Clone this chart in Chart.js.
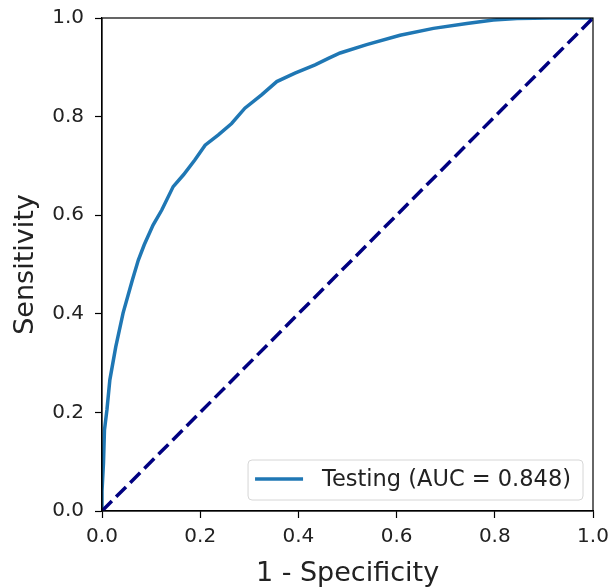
<!DOCTYPE html>
<html><head><meta charset="utf-8">
<script src="https://cdn.jsdelivr.net/npm/chart.js@4.4.0/dist/chart.umd.min.js"></script>
<style>html,body{margin:0;padding:0;background:#fff;overflow:hidden;}</style>
</head><body>
<canvas id="c" width="610" height="587"></canvas>
<script>
// False positive rate (1 - Specificity)
const fpr = [0, 0.000, 0.003, 0.005, 0.010, 0.016, 0.028, 0.043, 0.062, 0.074, 0.086, 0.104, 0.122, 0.145, 0.166, 0.189, 0.210, 0.237, 0.264, 0.291, 0.325, 0.356, 0.393, 0.434, 0.461, 0.485, 0.539, 0.607, 0.675, 0.743, 0.797, 0.845, 0.912, 1.0];
// True positive rate (Sensitivity)
const tpr = [0, 0.040, 0.097, 0.164, 0.205, 0.266, 0.333, 0.402, 0.469, 0.509, 0.540, 0.580, 0.611, 0.658, 0.682, 0.712, 0.742, 0.763, 0.786, 0.817, 0.844, 0.871, 0.888, 0.905, 0.918, 0.929, 0.946, 0.965, 0.979, 0.989, 0.996, 0.999, 1.0, 1.0];
// Chance diagonal
const chanceX = [0, 1];
const chanceY = [0, 1];
const tickValues = [0.0, 0.2, 0.4, 0.6, 0.8, 1.0];
const rocLabel = 'Testing (AUC = 0.848)';
const xTitle = '1 - Specificity';
const yTitle = 'Sensitivity';

const FONT = "'DejaVu Sans', sans-serif";
const rocPoints = fpr.map((x, i) => ({x: x, y: tpr[i]}));
const chancePoints = chanceX.map((x, i) => ({x: x, y: chanceY[i]}));

const framePlugin = {
  id: 'frame',
  afterDatasetsDraw(chart) {
    const a = chart.chartArea, ctx = chart.ctx;
    ctx.save();
    ctx.strokeStyle = '#000';
    ctx.lineWidth = 1.2;
    ctx.strokeRect(a.left, a.top, a.right - a.left, a.bottom - a.top);
    ctx.restore();
  }
};

const legendPlugin = {
  id: 'innerLegend',
  afterDraw(chart) {
    const a = chart.chartArea, ctx = chart.ctx;
    const ds = chart.data.datasets[0];
    ctx.save();
    ctx.font = "22.5px " + FONT;
    const tw = ctx.measureText(ds.label).width;
    const w = 7 + 48 + 19 + tw + 12;
    const h = 40;
    const x1 = a.right - 10, y1 = a.bottom - 11;
    const x0 = x1 - w, y0 = y1 - h;
    ctx.beginPath();
    if (ctx.roundRect) ctx.roundRect(x0, y0, w, h, 4); else ctx.rect(x0, y0, w, h);
    ctx.fillStyle = 'rgba(255,255,255,0.8)';
    ctx.fill();
    ctx.strokeStyle = '#d6d6d6';
    ctx.lineWidth = 1;
    ctx.stroke();
    const ly = y0 + h / 2 - 1;
    ctx.beginPath();
    ctx.moveTo(x0 + 7, ly);
    ctx.lineTo(x0 + 55, ly);
    ctx.strokeStyle = ds.borderColor;
    ctx.lineWidth = ds.borderWidth;
    ctx.stroke();
    ctx.fillStyle = '#222';
    ctx.textBaseline = 'middle';
    ctx.textAlign = 'left';
    ctx.fillText(ds.label, x0 + 74, ly + 1);
    ctx.restore();
  }
};

new Chart(document.getElementById('c'), {
  type: 'scatter',
  data: {
    datasets: [
      {label: rocLabel, data: rocPoints, showLine: true, borderColor: '#1f77b4', backgroundColor: '#1f77b4',
       borderWidth: 3.5, pointRadius: 0, tension: 0, fill: false, order: 2},
      {label: 'chance', data: chancePoints, showLine: true, borderColor: '#000080', backgroundColor: '#000080',
       borderWidth: 3.5, borderDash: [14, 6], pointRadius: 0, tension: 0, fill: false, order: 1}
    ]
  },
  options: {
    responsive: false,
    animation: false,
    devicePixelRatio: 1,
    layout: {padding: {left: 0, right: 17, top: 18, bottom: 0}},
    plugins: {legend: {display: false}, tooltip: {enabled: false}},
    scales: {
      x: {
        type: 'linear', min: 0, max: 1,
        afterBuildTicks(s) { s.ticks = tickValues.map(v => ({value: v})); },
        afterFit(s) { s.height = 76; s.paddingLeft = 0; s.paddingRight = 0; },
        ticks: {callback: v => v.toFixed(1), font: {family: FONT, size: 20}, color: '#222', padding: 7, maxRotation: 0, autoSkip: false},
        grid: {drawOnChartArea: false, drawTicks: true, tickLength: 7, tickWidth: 1.2, tickColor: '#000'},
        border: {display: true, color: '#000', width: 1.2},
        title: {display: true, text: xTitle, font: {family: FONT, size: 27, lineHeight: 0.95}, color: '#222', padding: {top: 0, bottom: 0}}
      },
      y: {
        type: 'linear', min: 0, max: 1,
        afterBuildTicks(s) { s.ticks = tickValues.map(v => ({value: v})); },
        afterFit(s) { s.width = 102; s.paddingTop = 0; s.paddingBottom = 0; },
        ticks: {callback: v => v.toFixed(1), font: {family: FONT, size: 20}, color: '#222', padding: 11, autoSkip: false},
        grid: {drawOnChartArea: false, drawTicks: true, tickLength: 7, tickWidth: 1.2, tickColor: '#000'},
        border: {display: true, color: '#000', width: 1.2},
        title: {display: true, text: yTitle, font: {family: FONT, size: 27}, color: '#222', padding: {top: 10, bottom: 0}}
      }
    }
  },
  plugins: [framePlugin, legendPlugin]
});
</script>
</body></html>
